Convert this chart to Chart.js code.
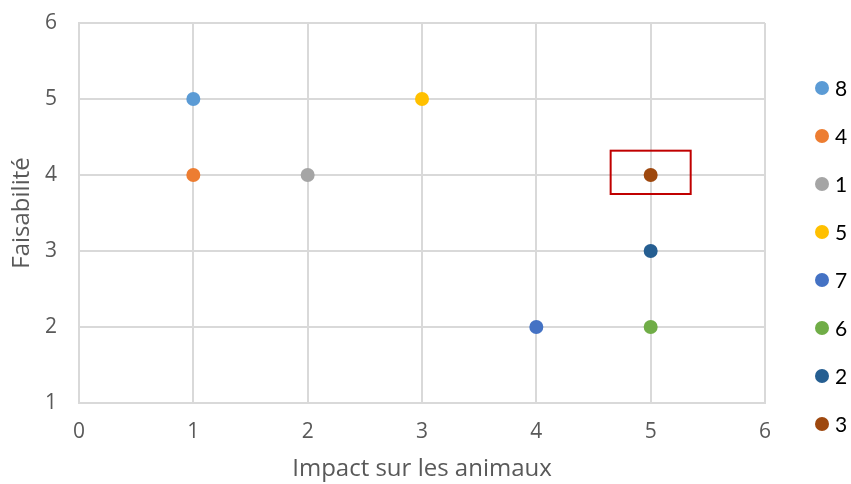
<!DOCTYPE html>
<html>
<head>
<meta charset="utf-8">
<script src="https://cdn.jsdelivr.net/npm/chart.js@4.4.0/dist/chart.umd.min.js"></script>
<style>
  html, body { margin: 0; padding: 0; background: #fff; }
  #wrap { width: 851px; height: 484px; }
</style>
</head>
<body>
<div id="wrap"><canvas id="scatterChart" width="851" height="484"></canvas></div>
<script>
// series in legend order
const labels = ["8", "4", "1", "5", "7", "6", "2", "3"];
const impact = [1, 1, 2, 3, 4, 5, 5, 5];
const faisabilite = [5, 4, 4, 5, 2, 2, 3, 4];
const colors = ["#5B9BD5", "#ED7D31", "#A5A5A5", "#FFC000", "#4472C4", "#70AD47", "#255E91", "#9E480E"];
const xTicks = [0, 1, 2, 3, 4, 5, 6];
const yTicks = [1, 2, 3, 4, 5, 6];
// highlight box around series "3", in data units
const boxX = [4.65, 5.35];
const boxY = [3.75, 4.32];

const datasets = labels.map((name, i) => ({
  label: name,
  data: [{ x: impact[i], y: faisabilite[i] }],
  backgroundColor: colors[i],
  borderColor: colors[i],
  pointRadius: 7,
  pointHoverRadius: 7,
  borderWidth: 0,
}));

const highlightBox = {
  id: "highlightBox",
  afterDatasetsDraw(chart) {
    const { ctx, scales } = chart;
    const x1 = scales.x.getPixelForValue(boxX[0]);
    const x2 = scales.x.getPixelForValue(boxX[1]);
    const y1 = scales.y.getPixelForValue(boxY[1]);
    const y2 = scales.y.getPixelForValue(boxY[0]);
    ctx.save();
    ctx.strokeStyle = "#C00000";
    ctx.lineWidth = 2;
    ctx.strokeRect(x1, y1, x2 - x1, y2 - y1);
    ctx.restore();
  },
};

const sideLegend = {
  id: "sideLegend",
  afterDraw(chart) {
    const { ctx } = chart;
    ctx.save();
    ctx.font = "21px Lato, 'Liberation Sans', sans-serif";
    ctx.textBaseline = "middle";
    labels.forEach((name, i) => {
      const y = 88 + i * 48;
      ctx.beginPath();
      ctx.fillStyle = colors[i];
      ctx.arc(822, y, 7, 0, Math.PI * 2);
      ctx.fill();
      ctx.fillStyle = "#000";
      ctx.fillText(name, 835, y + 1);
    });
    ctx.restore();
  },
};

new Chart(document.getElementById("scatterChart"), {
  type: "scatter",
  data: { datasets },
  plugins: [highlightBox, sideLegend],
  options: {
    responsive: false,
    animation: false,
    layout: { padding: { top: 23, right: 86, left: 0, bottom: 0 } },
    plugins: {
      legend: { display: false },
      tooltip: { enabled: false },
    },
    scales: {
      x: {
        type: "linear",
        min: 0,
        max: 6,
        afterBuildTicks: (s) => { s.ticks = xTicks.map((v) => ({ value: v })); },
        afterFit: (s) => { s.height = 81; s.paddingLeft = 0; s.paddingRight = 0; },
        grid: { color: "#D9D9D9", lineWidth: 2, drawTicks: false },
        border: { color: "#D9D9D9", width: 2 },
        ticks: { color: "#595959", font: { family: "'Open Sans'", size: 21 }, padding: 16 },
        title: {
          display: true,
          text: "Impact sur les animaux",
          color: "#595959",
          font: { family: "'Open Sans'", size: 24 },
          padding: { top: 0, bottom: 0 },
        },
      },
      y: {
        type: "linear",
        min: 1,
        max: 6,
        afterBuildTicks: (s) => { s.ticks = yTicks.map((v) => ({ value: v })); },
        afterFit: (s) => { s.width = 79; s.paddingTop = 0; s.paddingBottom = 0; },
        grid: { color: "#D9D9D9", lineWidth: 2, drawTicks: false },
        border: { color: "#D9D9D9", width: 2 },
        ticks: { color: "#595959", font: { family: "'Open Sans'", size: 21 }, padding: 22 },
        title: {
          display: true,
          text: "Faisabilité",
          color: "#595959",
          font: { family: "'Open Sans'", size: 24 },
          padding: { top: 8, bottom: 0 },
        },
      },
    },
  },
});
</script>
</body>
</html>
